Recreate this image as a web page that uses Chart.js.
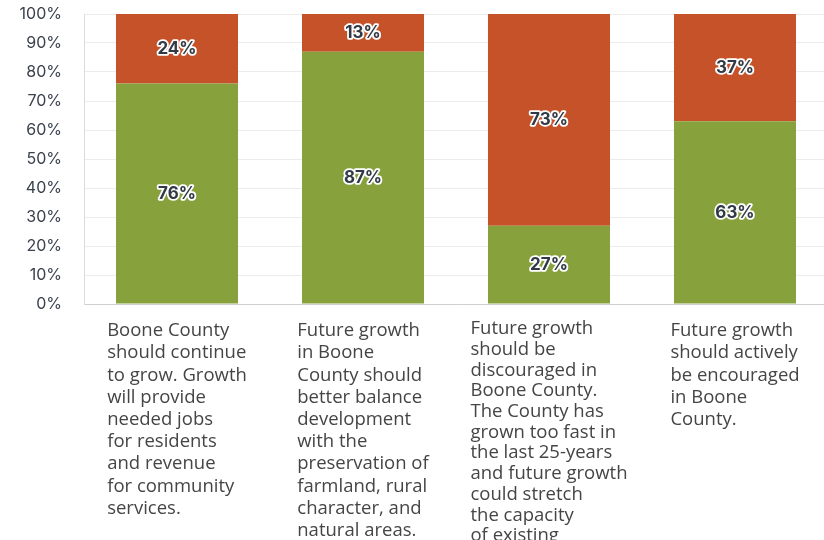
<!DOCTYPE html>
<html>
<head>
<meta charset="utf-8">
<script src="https://cdn.jsdelivr.net/npm/chart.js@4.4.1/dist/chart.umd.min.js"></script>
<style>
  html, body {margin: 0; padding: 0; background: #fff; overflow: hidden;}
  #wrap {width: 828px; height: 540px; position: relative;}
</style>
</head>
<body>
<div id="wrap"><canvas id="chart"></canvas></div>
<script>
// wrapped category statements (tick labels)
const categories = [
    ["Boone County", "should continue", "to grow. Growth", "will provide", "needed jobs", "for residents", "and revenue", "for community", "services."],
    ["Future growth", "in Boone", "County should", "better balance", "development", "with the", "preservation of", "farmland, rural", "character, and", "natural areas."],
    ["Future growth", "should be", "discouraged in", "Boone County.", "The County has", "grown too fast in", "the last 25-years", "and future growth", "could stretch", "the capacity", "of existing", "infrastructure."],
    ["Future growth", "should actively", "be encouraged", "in Boone", "County."]
]
const agreeValues = [76, 87, 27, 63]
const disagreeValues = [24, 13, 73, 37]
const yTicks = [0, 10, 20, 30, 40, 50, 60, 70, 80, 90, 100]

const green = "#87a23c"
const orange = "#c55228"

// draws the value in the middle of each segment, dark text with white halo
const segmentLabels = {
    id: "segmentLabels",
    afterDatasetsDraw(chart) {
        let ctx = chart.ctx
        ctx.save()
        ctx.font = "bold 17px Inter"
        ctx.textAlign = "center"
        ctx.textBaseline = "middle"
        ctx.lineJoin = "round"
        chart.data.datasets.forEach((ds, di) => {
            let meta = chart.getDatasetMeta(di)
            meta.data.forEach((bar, i) => {
                let p = bar.getCenterPoint()
                let txt = ds.data[i] + "%"
                ctx.lineWidth = 3.5
                ctx.strokeStyle = "#ffffff"
                ctx.strokeText(txt, p.x, p.y)
                ctx.fillStyle = "#323a46"
                ctx.fillText(txt, p.x, p.y)
            })
        })
        ctx.restore()
    }
}

// category text under the axis: block centred on the tick, lines left aligned
const categoryText = {
    id: "categoryText",
    afterDraw(chart) {
        let ctx = chart.ctx
        let xScale = chart.scales.x
        let top = chart.chartArea.bottom + 27
        ctx.save()
        ctx.font = "18.5px 'Open Sans'"
        ctx.fillStyle = "#454545"
        ctx.textAlign = "left"
        ctx.textBaseline = "middle"
        categories.forEach((lines, i) => {
            let cx = xScale.getPixelForValue(i)
            let maxW = 0
            for (let l of lines) { maxW = Math.max(maxW, ctx.measureText(l).width) }
            let left = cx - maxW / 2
            let lh = lines.length > 10 ? 20.7 : 22.2
            let y0 = lines.length > 10 ? top - 2 : top
            lines.forEach((l, j) => ctx.fillText(l, left, y0 + j * lh))
        })
        ctx.restore()
    }
}

new Chart(document.getElementById("chart"), {
    type: "bar",
    data: {
        labels: categories,
        datasets: [
            {label: "Agree", data: agreeValues, backgroundColor: green, barPercentage: 0.656, categoryPercentage: 1},
            {label: "Disagree", data: disagreeValues, backgroundColor: orange, barPercentage: 0.656, categoryPercentage: 1}
        ]
    },
    options: {
        responsive: true,
        maintainAspectRatio: false,
        animation: {duration: 0},
        layout: {padding: {top: 14, right: 0, bottom: 236, left: 0}},
        plugins: {legend: {display: false}, tooltip: {enabled: false}},
        scales: {
            x: {
                stacked: true,
                grid: {display: false, drawTicks: false},
                border: {display: true, color: "#cfcfcf"},
                ticks: {display: false}
            },
            y: {
                stacked: true,
                min: 0,
                max: 100,
                afterFit: (s) => { s.width = 84 },
                afterBuildTicks: (s) => { s.ticks = yTicks.map(v => ({value: v})) },
                grid: {color: "#ececec", drawTicks: true, tickLength: 22, tickColor: "rgba(0,0,0,0)"},
                border: {display: true, color: "#dcdcdc"},
                ticks: {
                    padding: 0,
                    color: "#3a414d",
                    font: {family: "Inter", size: 16},
                    callback: (v) => v + "%"
                }
            }
        }
    },
    plugins: [segmentLabels, categoryText]
})
</script>
</body>
</html>
